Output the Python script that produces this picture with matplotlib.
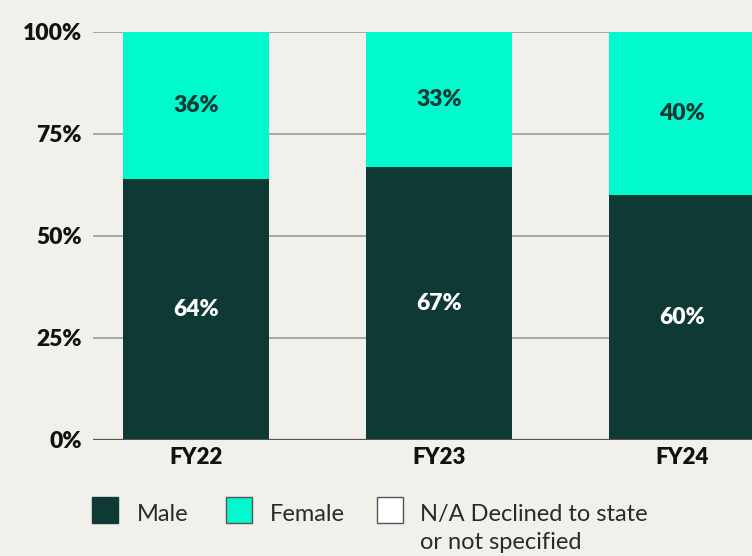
import matplotlib
matplotlib.use("Agg")
import matplotlib.pyplot as plt
from matplotlib.patches import Rectangle
import numpy as np

years = ["FY22", "FY23", "FY24"]
male = [64, 67, 60]
female = [36, 33, 40]
not_stated = [0, 0, 0]
series_names = ["Male", "Female", "N/A Declined to state\nor not specified"]
y_ticks = [0, 25, 50, 75, 100]
y_tick_labels = ["0%", "25%", "50%", "75%", "100%"]

BG = "#F2F0EB"
DARK = "#0E3935"
CYAN = "#00FACD"
WHITE = "#FFFFFF"
TEXT = "#111111"

plt.rcParams["font.family"] = ["Lato", "DejaVu Sans"]

fig = plt.figure(figsize=(7.52, 5.56), dpi=100, facecolor=BG)
ax = fig.add_axes([93 / 752, 1 - 440 / 556, 1 - 93 / 752, 408 / 556])
ax.set_facecolor(BG)

x = np.arange(len(years))
w = 0.6
ax.bar(x, male, width=w, color=DARK, zorder=3)
ax.bar(x, female, width=w, bottom=male, color=CYAN, zorder=3)
ax.bar(x, not_stated, width=w, bottom=np.add(male, female), color=WHITE, zorder=3)

for xi, m, f in zip(x, male, female):
    ax.text(xi, m / 2, f"{m}%", ha="center", va="center", color=WHITE,
            fontsize=16.5, fontweight="heavy", zorder=4)
    ax.text(xi, m + f / 2, f"{f}%", ha="center", va="center", color=DARK,
            fontsize=16.5, fontweight="heavy", zorder=4)

ax.set_xlim(-0.424, 2.288)
ax.set_ylim(0, 100)
ax.set_yticks(y_ticks)
ax.set_yticklabels(y_tick_labels, fontsize=16.5, fontweight="heavy", color=TEXT)
ax.set_xticks(x)
ax.set_xticklabels(years, fontsize=16, fontweight="heavy", color=TEXT)
ax.tick_params(axis="y", length=0, pad=8)
ax.tick_params(axis="x", length=0, pad=5)
for yt in y_ticks[1:]:
    ax.axhline(yt, color="#9A9A9A", linewidth=1.2, zorder=1)
ax.axhline(0, color="#555555", linewidth=1.6, zorder=5)
for s in ax.spines.values():
    s.set_visible(False)

# legend row below the axis
colors = [DARK, CYAN, WHITE]
box_x = [92, 226, 377]
text_x = [137, 270, 420]
W, H = 752, 556
for name, c, bx, tx in zip(series_names, colors, box_x, text_x):
    fig.patches.append(Rectangle((bx / W, 1 - 523 / H), 26 / W, 26 / H,
                                 transform=fig.transFigure, facecolor=c,
                                 edgecolor="#555555" if c != DARK else DARK,
                                 linewidth=1.0))
    fig.text(tx / W, 1 - 504 / H, name, ha="left", va="top", fontsize=17,
             fontweight="normal", color="#2a2a2a", linespacing=1.4)

fig.savefig("out.png", dpi=100, facecolor=BG)
